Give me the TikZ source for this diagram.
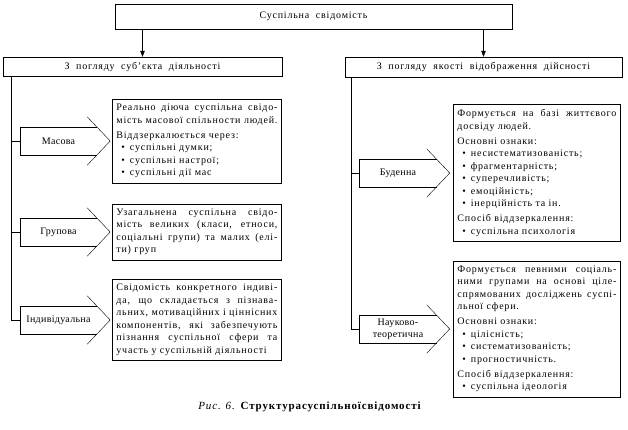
\documentclass[tikz,border=0pt]{standalone}
\usepackage{fontspec}
\setmainfont{Liberation Serif}[LetterSpace=8.0]
\newfontfamily\kindfont{Liberation Serif}[LetterSpace=3.0]
\usetikzlibrary{positioning,arrows.meta}

\newcommand{\jl}[1]{\makebox[\linewidth][s]{\spaceskip=.3333em plus 1em\relax #1}}
\newcommand{\bul}{\hspace*{5pt}\textbullet\hspace{5pt}}
\newcommand{\kindshape}[1]{%
  \draw (#1.north east) -- (#1.north west) -- (#1.south west) -- (#1.south east);
  \draw ([shift={(-10pt,10pt)}]#1.north east) -- ([xshift=13pt]#1.east) -- ([shift={(-10pt,-10pt)}]#1.south east);}

\begin{document}
\begin{tikzpicture}[x=1pt,y=-1pt,font=\fontsize{10}{12.5}\selectfont,
    box/.style={draw, inner sep=1pt},
    kind/.style={minimum width=77pt, minimum height=28pt, inner sep=1pt, align=center, font=\fontsize{10}{12}\kindfont},
    note/.style={draw, text width=161pt, inner xsep=4pt, inner ysep=5pt, align=left},
    arr/.style={-{Triangle[length=6pt,width=4.5pt]}}]
    \useasboundingbox (0,0) rectangle (628,429);

    % Nodes
    \node[box, minimum width=397pt, minimum height=25pt] (social) at (313.5,16.5) {Суспільна~~свідомість};
    \node[box, minimum width=279pt, minimum height=19pt] (subj) at (142.5,66.5) {З~~погляду~~суб'єкта~~діяльності};
    \node[box, minimum width=277pt, minimum height=20pt] (qual) at (483.5,67) {З~~погляду~~якості~~відображення~~дійсності};

    \node[kind] (masova) at (58.5,141) {Масова};
    \node[kind] (grupova) at (58.5,232) {Групова};
    \node[kind] (indiv) at (58.5,320) {Індивідуальна};
    \node[kind] (budenna) at (398,173) {Буденна};
    \node[kind, text width=70pt] (naukovo) at (398,329) {Науково-\\теоретична};

    \node[note, right=15pt of masova] (masnote) {%
      \jl{Реально діюча суспільна свідо-}\\
      \jl{мість масової спільности людей.}\\[2.5pt]
      Віддзеркалюється через:\\
      \bul суспільні думки;\\
      \bul суспільні настрої;\\
      \bul суспільні дії мас};
    \node[note, right=15pt of grupova] (grupnote) {%
      \jl{Узагальнена суспільна свідо-}\\
      \jl{мість великих (класи, етноси,}\\
      \jl{соціальні групи) та малих (елі-}\\
      ти) груп};
    \node[note, right=15pt of indiv] (indnote) {%
      \jl{Свідомість конкретного індиві-}\\
      \jl{да, що складається з пізнава-}\\
      \jl{льних, мотиваційних і ціннісних}\\
      \jl{компонентів, які забезпечують}\\
      \jl{пізнання суспільної сфери та}\\
      участь у суспільній діяльності};
    \node[note, text width=159pt, right=16.5pt of budenna] (budnote) {%
      \jl{Формується на базі життєвого}\\
      досвіду людей.\\[2.5pt]
      Основні ознаки:\\
      \bul несистематизованість;\\
      \bul фрагментарність;\\
      \bul суперечливість;\\
      \bul емоційність;\\
      \bul інерційність та ін.\\[2.5pt]
      Спосіб віддзеркалення:\\
      \bul суспільна психологія};
    \node[note, text width=159pt, right=16.5pt of naukovo] (naunote) {%
      \jl{Формується певними соціаль-}\\
      \jl{ними групами на основі ціле-}\\
      \jl{спрямованих досліджень суспі-}\\
      льної сфери.\\[2.5pt]
      Основні ознаки:\\
      \bul цілісність;\\
      \bul систематизованість;\\
      \bul прогностичність.\\[2.5pt]
      Спосіб віддзеркалення:\\
      \bul суспільна ідеологія};

    \node[font=\fontsize{11}{13}\selectfont] (caption) at (310,407) {\textit{Рис. 6.} \textbf{Структурасуспільноїсвідомості}};

    % Arrow shapes
    \kindshape{masova}
    \kindshape{grupova}
    \kindshape{indiv}
    \kindshape{budenna}
    \kindshape{naukovo}

    % Arrows
    \draw[arr] (social.south -| subj.north) -- (subj.north);
    \draw[arr] (social.south -| qual.north) -- (qual.north);

    \coordinate (lspine) at ([xshift=8pt]subj.south west);
    \coordinate (rspine) at ([xshift=6pt]qual.south west);
    \draw (lspine) |- (indiv.west);
    \draw (lspine |- masova.west) -- (masova.west);
    \draw (lspine |- grupova.west) -- (grupova.west);
    \draw (rspine) |- (naukovo.west);
    \draw (rspine |- budenna.west) -- (budenna.west);

\end{tikzpicture}
\end{document}
